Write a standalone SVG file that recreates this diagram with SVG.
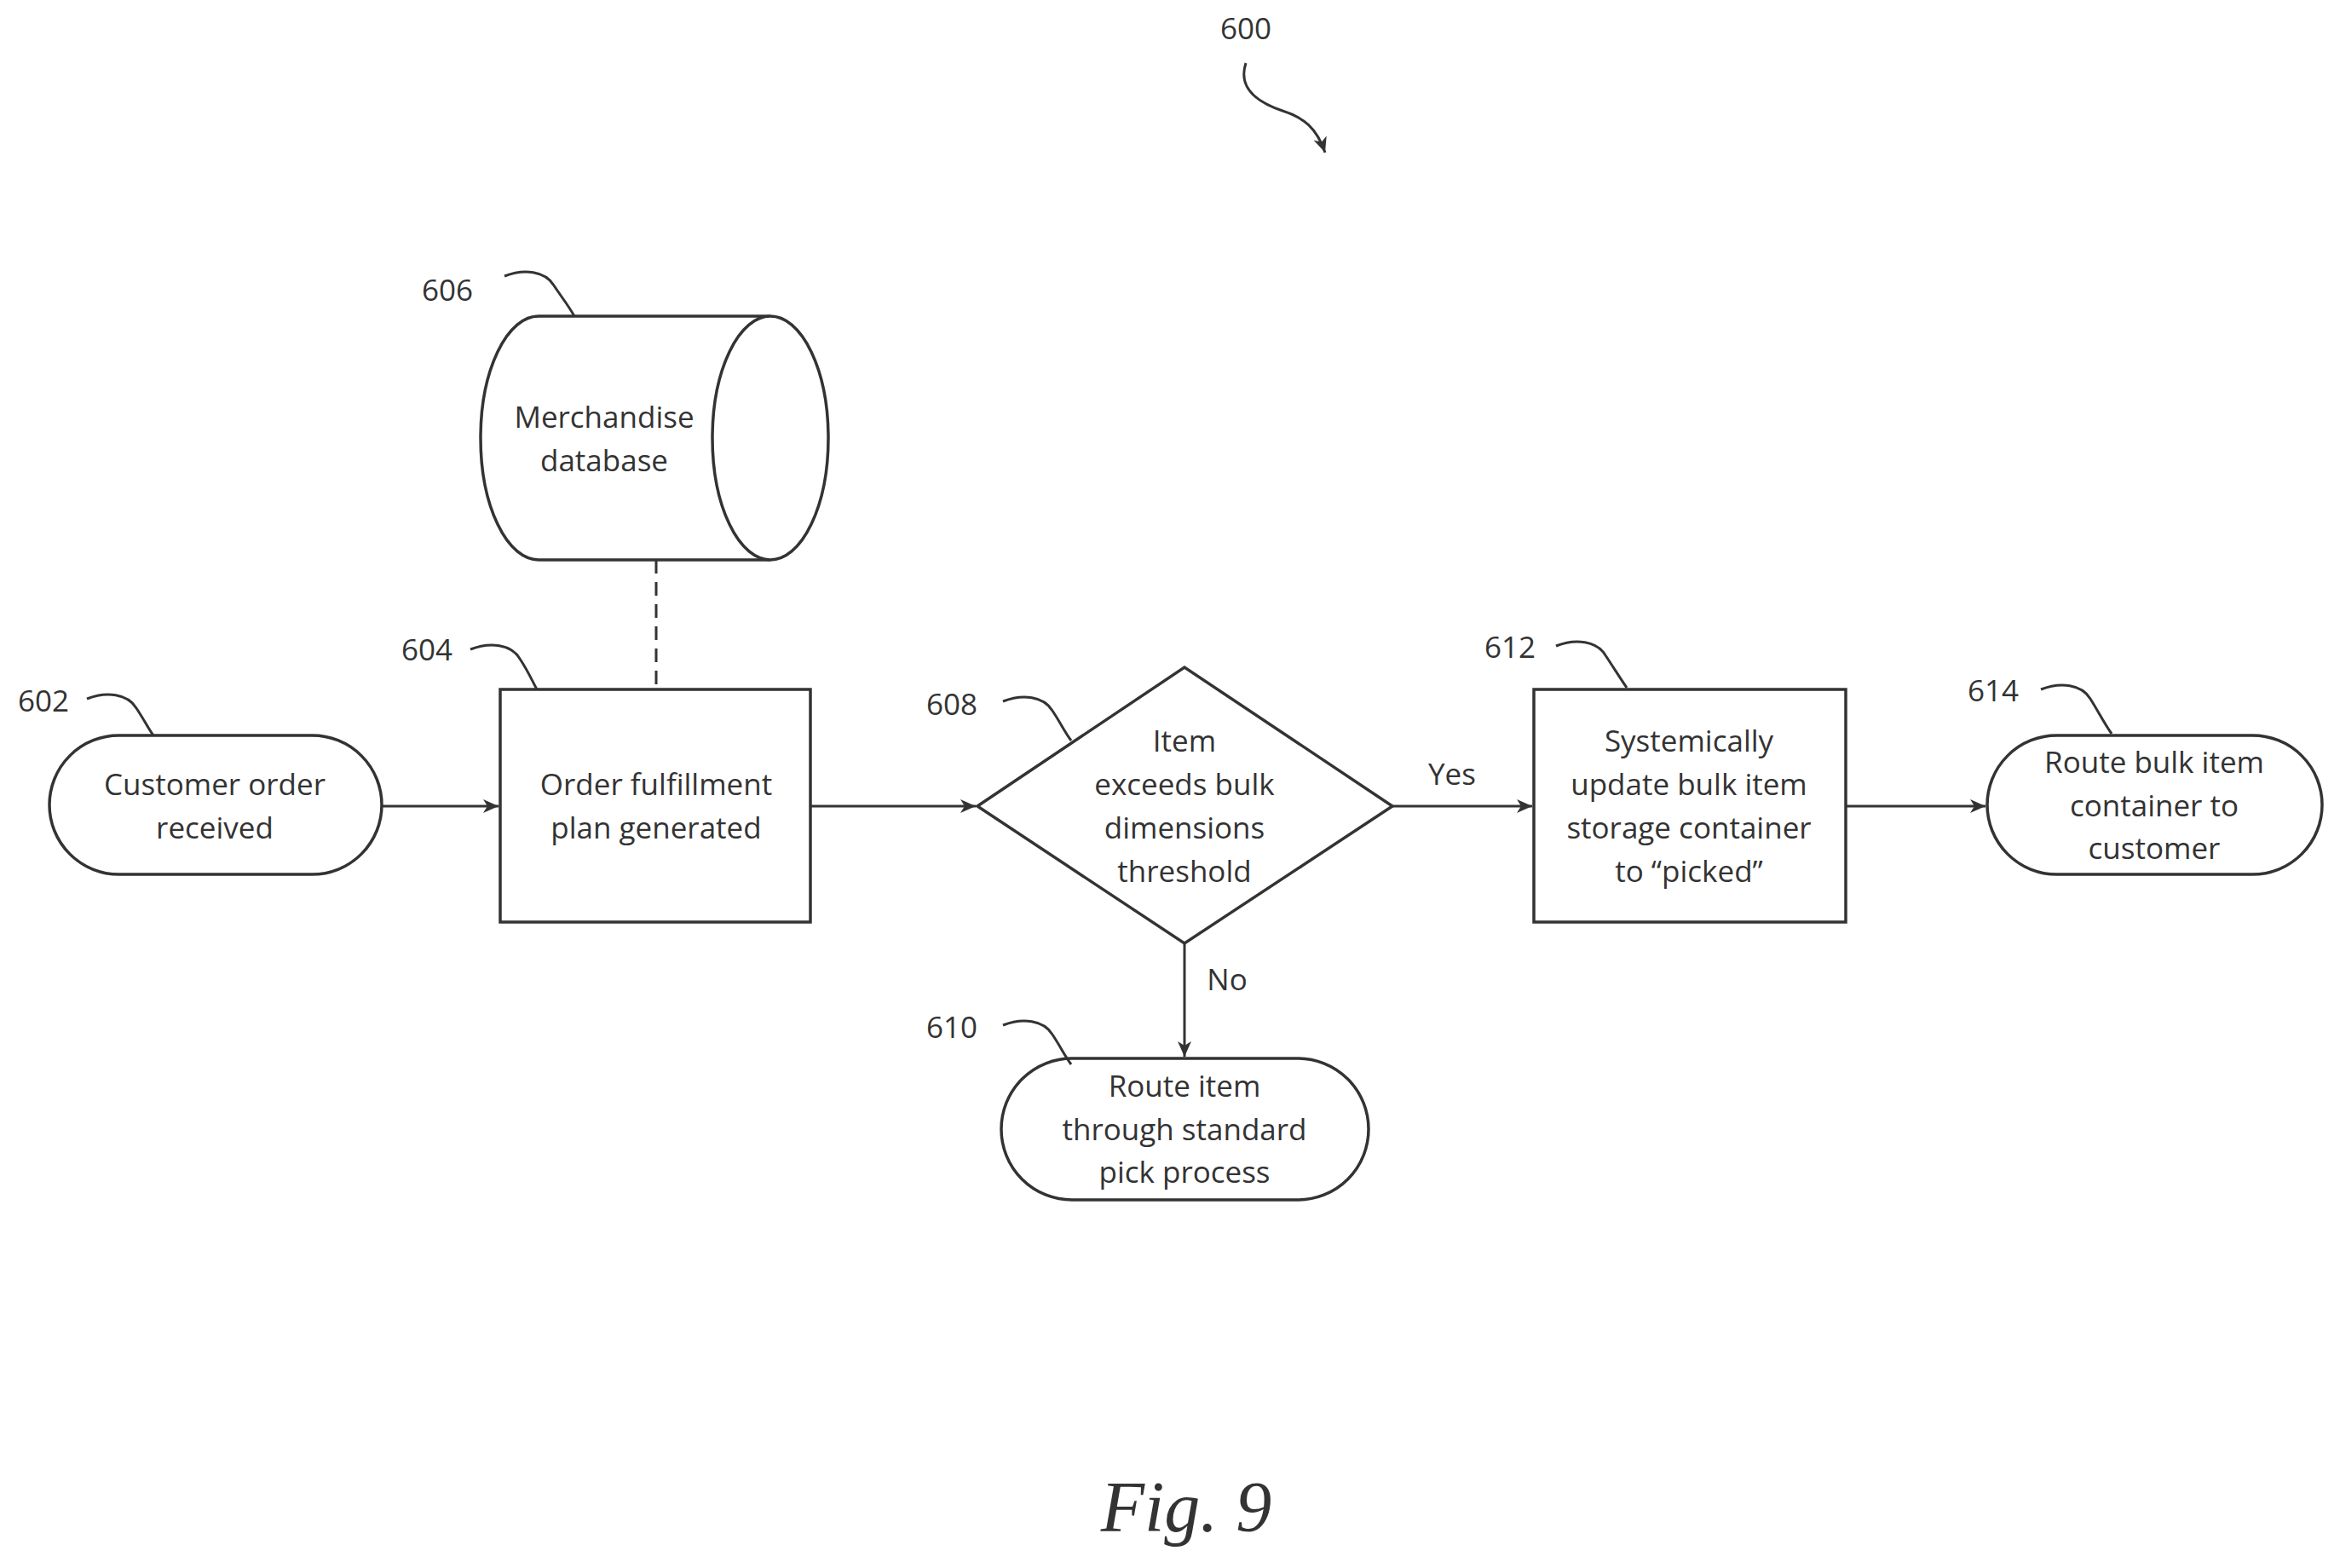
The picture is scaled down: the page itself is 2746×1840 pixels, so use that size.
<svg xmlns="http://www.w3.org/2000/svg" width="2746" height="1840" viewBox="0 0 2746 1840">
<style>
.s{fill:#fff;stroke:#333;stroke-width:3.5}
.l{fill:none;stroke:#333;stroke-width:3}
.t{font-family:"Open Sans","Liberation Sans",sans-serif;font-size:35px;fill:#333;text-anchor:middle}
.n{font-family:"Open Sans","Liberation Sans",sans-serif;font-size:35px;fill:#333;text-anchor:middle}
</style>
<defs>
<marker id="a" markerWidth="10" markerHeight="10" refX="9" refY="5" orient="auto" markerUnits="userSpaceOnUse" viewBox="0 0 10 10">
<path d="M0,0 L10,5 L0,10 Z" fill="#555"/>
</marker>
<marker id="b" markerWidth="20" markerHeight="20" refX="18" refY="10" orient="auto" markerUnits="userSpaceOnUse" viewBox="0 0 20 20">
<path d="M0,2 L18,10 L0,18 L5,10 Z" fill="#333"/>
</marker>
</defs>
<g id="label600">
<text class="n" x="1462" y="46">600</text>
<path class="l" d="M1462,74 C1450,110 1490,125 1505,130 C1530,138 1545,150 1555,179" marker-end="url(#b)"/>
</g>
<g id="connectors">
<line class="l" x1="770" y1="657" x2="770" y2="809" stroke-dasharray="16,10"/>
<line class="l" x1="448" y1="946" x2="585" y2="946" marker-end="url(#b)"/>
<line class="l" x1="951" y1="946" x2="1145" y2="946" marker-end="url(#b)"/>
<line class="l" x1="1634" y1="946" x2="1798" y2="946" marker-end="url(#b)"/>
<line class="l" x1="2166" y1="946" x2="2330" y2="946" marker-end="url(#b)"/>
<line class="l" x1="1390" y1="1107" x2="1390" y2="1240" marker-end="url(#b)"/>
<text class="t" x="1704" y="921">Yes</text>
<text class="t" x="1440" y="1162">No</text>
</g>
<g id="n606">
<path class="s" d="M904,371 L632,371 A68 143 0 0 0 632,657 L904,657"/>
<ellipse class="s" cx="904" cy="514" rx="68" ry="143"/>
<text class="t" x="709" y="502">Merchandise</text>
<text class="t" x="709" y="553">database</text>
<text class="n" x="525" y="353">606</text>
<path class="l" d="M592,324 C615,315 640,318 650,335 C660,350 668,360 674,371"/>
</g>
<g id="n602">
<rect class="s" x="58" y="863" width="390" height="163" rx="81.5"/>
<text class="t" x="252" y="933">Customer order</text>
<text class="t" x="252" y="984">received</text>
<text class="n" x="51" y="835">602</text>
<path class="l" d="M102,820 C125,811 150,814 160,831 C170,846 174,855 180,863"/>
</g>
<g id="n604">
<rect class="s" x="587" y="809" width="364" height="273"/>
<text class="t" x="770" y="933">Order fulfillment</text>
<text class="t" x="770" y="984">plan generated</text>
<text class="n" x="501" y="775">604</text>
<path class="l" d="M552,762 C575,753 600,756 610,773 C620,788 624,798 630,809"/>
</g>
<g id="n608">
<polygon class="s" points="1147,946 1390,783 1634,946 1390,1107"/>
<text class="t" x="1390" y="882">Item</text>
<text class="t" x="1390" y="933">exceeds bulk</text>
<text class="t" x="1390" y="984">dimensions</text>
<text class="t" x="1390" y="1035">threshold</text>
<text class="n" x="1117" y="839">608</text>
<path class="l" d="M1177,823 C1200,814 1225,817 1235,834 C1245,849 1250,860 1257,869"/>
</g>
<g id="n610">
<rect class="s" x="1175" y="1242" width="431" height="166" rx="83"/>
<text class="t" x="1390" y="1287">Route item</text>
<text class="t" x="1390" y="1338">through standard</text>
<text class="t" x="1390" y="1388">pick process</text>
<text class="n" x="1117" y="1218">610</text>
<path class="l" d="M1177,1203 C1200,1194 1225,1197 1235,1214 C1245,1229 1250,1240 1257,1249"/>
</g>
<g id="n612">
<rect class="s" x="1800" y="809" width="366" height="273"/>
<text class="t" x="1982" y="882">Systemically</text>
<text class="t" x="1982" y="933">update bulk item</text>
<text class="t" x="1982" y="984">storage container</text>
<text class="t" x="1982" y="1035">to “picked”</text>
<text class="n" x="1772" y="772">612</text>
<path class="l" d="M1826,758 C1849,749 1874,752 1884,769 C1894,784 1902,797 1909,807"/>
</g>
<g id="n614">
<rect class="s" x="2332" y="863" width="393" height="163" rx="81.5"/>
<text class="t" x="2528" y="907">Route bulk item</text>
<text class="t" x="2528" y="958">container to</text>
<text class="t" x="2528" y="1008">customer</text>
<text class="n" x="2339" y="823">614</text>
<path class="l" d="M2395,809 C2418,800 2443,803 2453,820 C2463,836 2470,850 2478,861"/>
</g>
<text x="1392" y="1797" font-family="Liberation Serif,serif" font-style="italic" font-size="84" fill="#333" text-anchor="middle">Fig. 9</text>
</svg>
